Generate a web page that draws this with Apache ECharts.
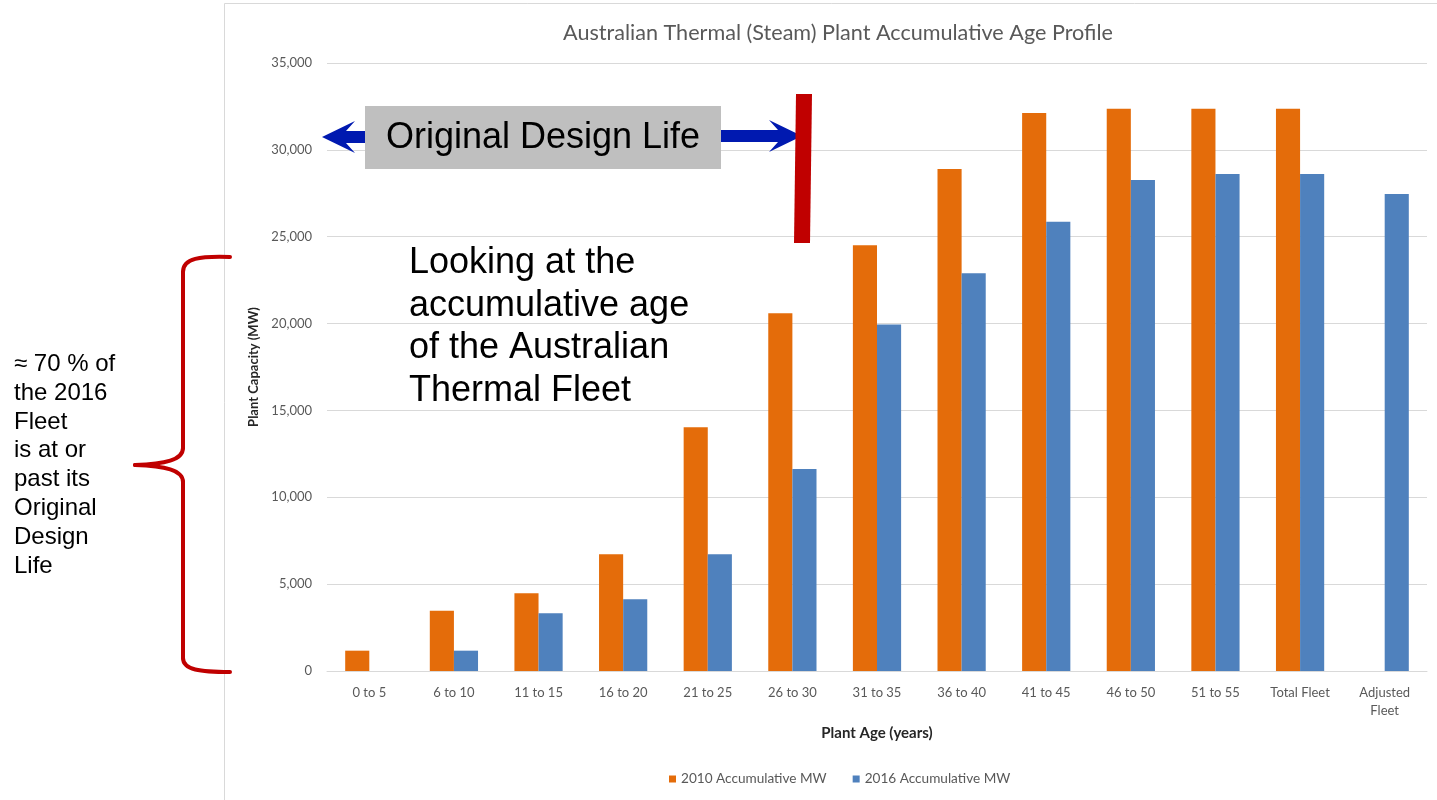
<!DOCTYPE html>
<html>
<head>
<meta charset="utf-8">
<script src="https://cdn.jsdelivr.net/npm/echarts@6/dist/echarts.min.js"></script>
<style>
html,body{margin:0;padding:0;background:#fff;}
#chart{width:1437px;height:800px;}
</style>
</head>
<body>
<div id="chart"></div>
<script>
const categories = ['0 to 5','6 to 10','11 to 15','16 to 20','21 to 25','26 to 30','31 to 35','36 to 40','41 to 45','46 to 50','51 to 55','Total Fleet','Adjusted Fleet'];
const mw2010 = [1170, 3470, 4470, 6720, 14030, 20600, 24510, 28900, 32120, 32370, 32370, 32370, null];
const mw2016 = [null, 1170, 3320, 4130, 6720, 11630, 19940, 22900, 25860, 28270, 28610, 28610, 27460];
const yTicks = { min: 0, max: 35000, interval: 5000 };
const seriesNames = ['2010 Accumulative MW', '2016 Accumulative MW'];

const chartFont = 'Lato';
const annFont = 'Liberation Sans';
const red = '#C00000';
const arrowBlue = '#0019B0';

const chart = echarts.init(document.getElementById('chart'), null, { renderer: 'canvas' });

function bez(x1, y1, cpx1, cpy1, cpx2, cpy2, x2, y2) {
  return { type: 'bezierCurve', z: 100,
    shape: { x1: x1, y1: y1, cpx1: cpx1, cpy1: cpy1, cpx2: cpx2, cpy2: cpy2, x2: x2, y2: y2 },
    style: { fill: 'none', stroke: red, lineWidth: 4, lineCap: 'round' } };
}
function seg(x1, y1, x2, y2) {
  return { type: 'line', z: 100,
    shape: { x1: x1, y1: y1, x2: x2, y2: y2 },
    style: { stroke: red, lineWidth: 4, lineCap: 'round' } };
}

const option = {
  animation: false,
  backgroundColor: '#fff',
  title: {
    text: 'Australian Thermal (Steam) Plant Accumulative Age Profile',
    left: 833, top: 17, textAlign: 'center',
    textStyle: { fontFamily: chartFont, fontSize: 21.6, fontWeight: 'normal', color: '#595959' }
  },
  legend: {
    left: 664, top: 767,
    itemWidth: 7, itemHeight: 7, itemGap: 26,
    icon: 'rect',
    textStyle: { fontFamily: chartFont, fontSize: 13.6, color: '#595959' },
    data: seriesNames
  },
  grid: { left: 327, right: 10, top: 63, bottom: 129, containLabel: false },
  xAxis: {
    type: 'category',
    data: categories,
    name: 'Plant Age (years)',
    nameLocation: 'middle',
    nameGap: 55,
    nameTextStyle: { fontFamily: chartFont, fontSize: 15, fontWeight: 'bold', color: '#262626' },
    axisLine: { lineStyle: { color: '#D9D9D9', width: 1 } },
    axisTick: { show: false },
    axisLabel: {
      fontFamily: chartFont, fontSize: 13, color: '#595959', margin: 13, lineHeight: 18,
      interval: 0,
      formatter: v => v === 'Adjusted Fleet' ? 'Adjusted\nFleet' : v
    }
  },
  yAxis: {
    type: 'value',
    min: yTicks.min, max: yTicks.max, interval: yTicks.interval,
    name: 'Plant Capacity (MW)',
    nameLocation: 'middle',
    nameGap: 61,
    nameRotate: 90,
    nameTextStyle: { fontFamily: chartFont, fontSize: 13, fontWeight: 'bold', color: '#262626' },
    axisLine: { show: false },
    axisTick: { show: false },
    splitLine: { lineStyle: { color: '#D9D9D9', width: 1 } },
    axisLabel: {
      fontFamily: chartFont, fontSize: 13, color: '#595959', margin: 15,
      formatter: v => v.toLocaleString('en-US')
    }
  },
  series: [
    {
      name: seriesNames[0], type: 'bar', data: mw2010,
      barGap: '0%', barCategoryGap: '43%',
      itemStyle: { color: '#E46C0A' }
    },
    {
      name: seriesNames[1], type: 'bar', data: mw2016,
      barGap: '0%', barCategoryGap: '43%',
      itemStyle: { color: '#4F81BD' }
    }
  ],
  graphic: [
    { type: 'rect', z: -10, silent: true,
      shape: { x: 224.5, y: 3.5, width: 1400, height: 900 },
      style: { fill: 'none', stroke: '#D9D9D9', lineWidth: 1 } },
    { type: 'rect', z: 100,
      shape: { x: 365, y: 106, width: 356, height: 63 },
      style: { fill: '#BFBFBF' } },
    { type: 'text', z: 101, x: 543, y: 138,
      style: { text: 'Original Design Life', font: '36px "' + annFont + '"', fill: '#000',
               textAlign: 'center', textVerticalAlign: 'middle' } },
    { type: 'polygon', z: 100,
      shape: { points: [[322,137],[355,121],[346,131],[365,131],[365,143],[346,143],[355,153]] },
      style: { fill: arrowBlue } },
    { type: 'polygon', z: 100,
      shape: { points: [[721,130],[778,130],[769,120],[802,136],[769,152],[778,142],[721,142]] },
      style: { fill: arrowBlue } },
    { type: 'polygon', z: 100,
      shape: { points: [[796,94],[812,94],[810,243],[794,243]] },
      style: { fill: red } },
    { type: 'text', z: 100, x: 409, y: 242,
      style: { text: 'Looking at the\naccumulative age\nof the Australian\nThermal Fleet',
               font: '36px "' + annFont + '"', fill: '#000', lineHeight: 42.5,
               textAlign: 'left', textVerticalAlign: 'top' } },
    { type: 'text', z: 100, x: 14, y: 350,
      style: { text: '≈ 70 % of\nthe 2016\nFleet\nis at or\npast its\nOriginal\nDesign\nLife',
               font: '24px "' + annFont + '"', fill: '#000', lineHeight: 28.8,
               textAlign: 'left', textVerticalAlign: 'top' } },
    bez(230,257, 200,256, 183,258, 183,272),
    seg(183,272, 183,448),
    bez(183,448, 183,460, 165,464, 135,465),
    bez(135,465, 165,466, 183,470, 183,482),
    seg(183,482, 183,658),
    bez(183,658, 183,670, 200,672, 230,672)
  ]
};

chart.setOption(option);
</script>
</body>
</html>
